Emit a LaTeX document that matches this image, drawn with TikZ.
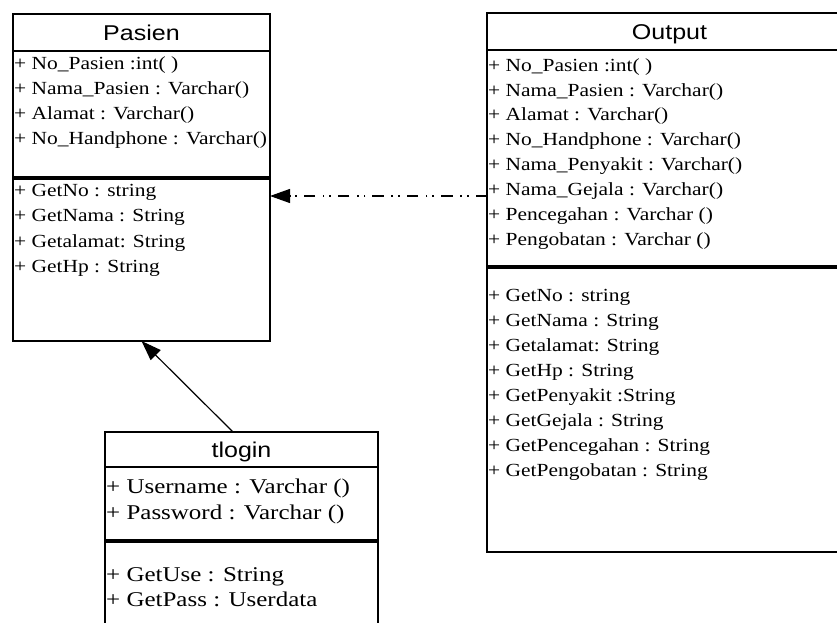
\documentclass[tikz,border=0pt]{standalone}
\usepackage{fontspec}
\setmainfont{Liberation Serif}[FakeStretch=1.16]
\newfontfamily\bigserif{Liberation Serif}[FakeStretch=1.19]
\newfontfamily\headfont{Liberation Sans}[FakeStretch=1.17]
\usetikzlibrary{positioning,arrows.meta}

\begin{document}
\begin{tikzpicture}[x=1pt, y=-1pt,
    classname/.style={rectangle, draw=black, line width=1.2pt, inner sep=0pt, outer sep=0pt,
        font=\headfont\fontsize{21.4}{22}\selectfont, text height=15.3pt, text depth=0pt},
    compart/.style={rectangle, draw=black, line width=1.2pt, inner sep=0pt, outer sep=0pt},
    member/.style={anchor=west, inner xsep=1pt, inner ysep=0pt,
        font=\fontsize{18.5}{20}\selectfont, text height=12.2pt, text depth=0pt},
    bigmember/.style={member, font=\bigserif\fontsize{21}{22}\selectfont, text height=13.9pt},
    divider/.style={line width=3.5pt},
    generalize/.style={-{Triangle[length=20pt,width=14pt]}, line width=1.2pt},
    depend/.style={-{Triangle[length=20pt,width=14pt]}, line width=1.2pt,
        dash pattern=on 11.5pt off 7pt on 1.7pt off 5pt on 1.7pt off 7.5pt},
]
\fill[white] (0,0) rectangle (837,623);
\useasboundingbox (0,0) rectangle (837,623);

% Pasien
\node [classname, minimum width=257pt, minimum height=37pt] (pasien) at (141.5,32.5) {Pasien};
\node [compart, minimum width=257pt, minimum height=127pt] (pasienattr) [below=0pt of pasien] {};
\node [compart, minimum width=257pt, minimum height=163pt] (pasienops) [below=0pt of pasienattr] {};
\draw [divider] (pasienattr.south west) -- (pasienattr.south east);
\foreach \t [count=\i] in {+ No\_Pasien :int( ), + Nama\_Pasien : Varchar(), + Alamat : Varchar(), + No\_Handphone : Varchar()}
    \node [member] (pasienA\i) at (13, 38+25*\i) {\t};
\foreach \t [count=\i] in {+ GetNo : string, + GetNama : String, + Getalamat: String, + GetHp : String}
    \node [member] (pasienO\i) at (13, 164.5+25.5*\i) {\t};

% Output
\node [classname, minimum width=365pt, minimum height=37pt] (output) at (669.5,31.5) {Output};
\node [compart, minimum width=365pt, minimum height=217pt] (outputattr) [below=0pt of output] {};
\node [compart, minimum width=365pt, minimum height=285pt] (outputops) [below=0pt of outputattr] {};
\draw [divider] (outputattr.south west) -- (outputattr.south east);
\foreach \t [count=\i] in {+ No\_Pasien :int( ), + Nama\_Pasien : Varchar(), + Alamat : Varchar(), + No\_Handphone : Varchar(), + Nama\_Penyakit : Varchar(), + Nama\_Gejala : Varchar(), + Pencegahan : Varchar (), + Pengobatan : Varchar ()}
    \node [member] (outputA\i) at (487, 40.2+24.9*\i) {\t};
\foreach \t [count=\i] in {+ GetNo : string, + GetNama : String, + Getalamat: String, + GetHp : String, + GetPenyakit :String, + GetGejala : String, + GetPencegahan : String, + GetPengobatan : String}
    \node [member] (outputO\i) at (487, 270+25*\i) {\t};

% tlogin
\node [classname, minimum width=273pt, minimum height=35pt] (tlogin) at (241.5,449.5) {tlogin};
\node [compart, minimum width=273pt, minimum height=74pt] (tloginattr) [below=0pt of tlogin] {};
\node [compart, minimum width=273pt, minimum height=100pt] (tloginops) [below=0pt of tloginattr] {};
\draw [divider] (tloginattr.south west) -- (tloginattr.south east);
\foreach \t [count=\i] in {+ Username : Varchar (), + Password : Varchar ()}
    \node [bigmember] (tloginA\i) at (105, 461+26*\i) {\t};
\foreach \t [count=\i] in {+ GetUse : String, + GetPass : Userdata}
    \node [bigmember] (tloginO\i) at (105, 550+25*\i) {\t};

% relations
\draw [generalize] ([xshift=-8.5pt]tlogin.north) -- (pasienops.south);
\coordinate (depstart) at ([yshift=-37.5pt]outputattr.west);
\draw [depend] (depstart) -- (depstart -| pasienops.east);

\end{tikzpicture}
\end{document}
